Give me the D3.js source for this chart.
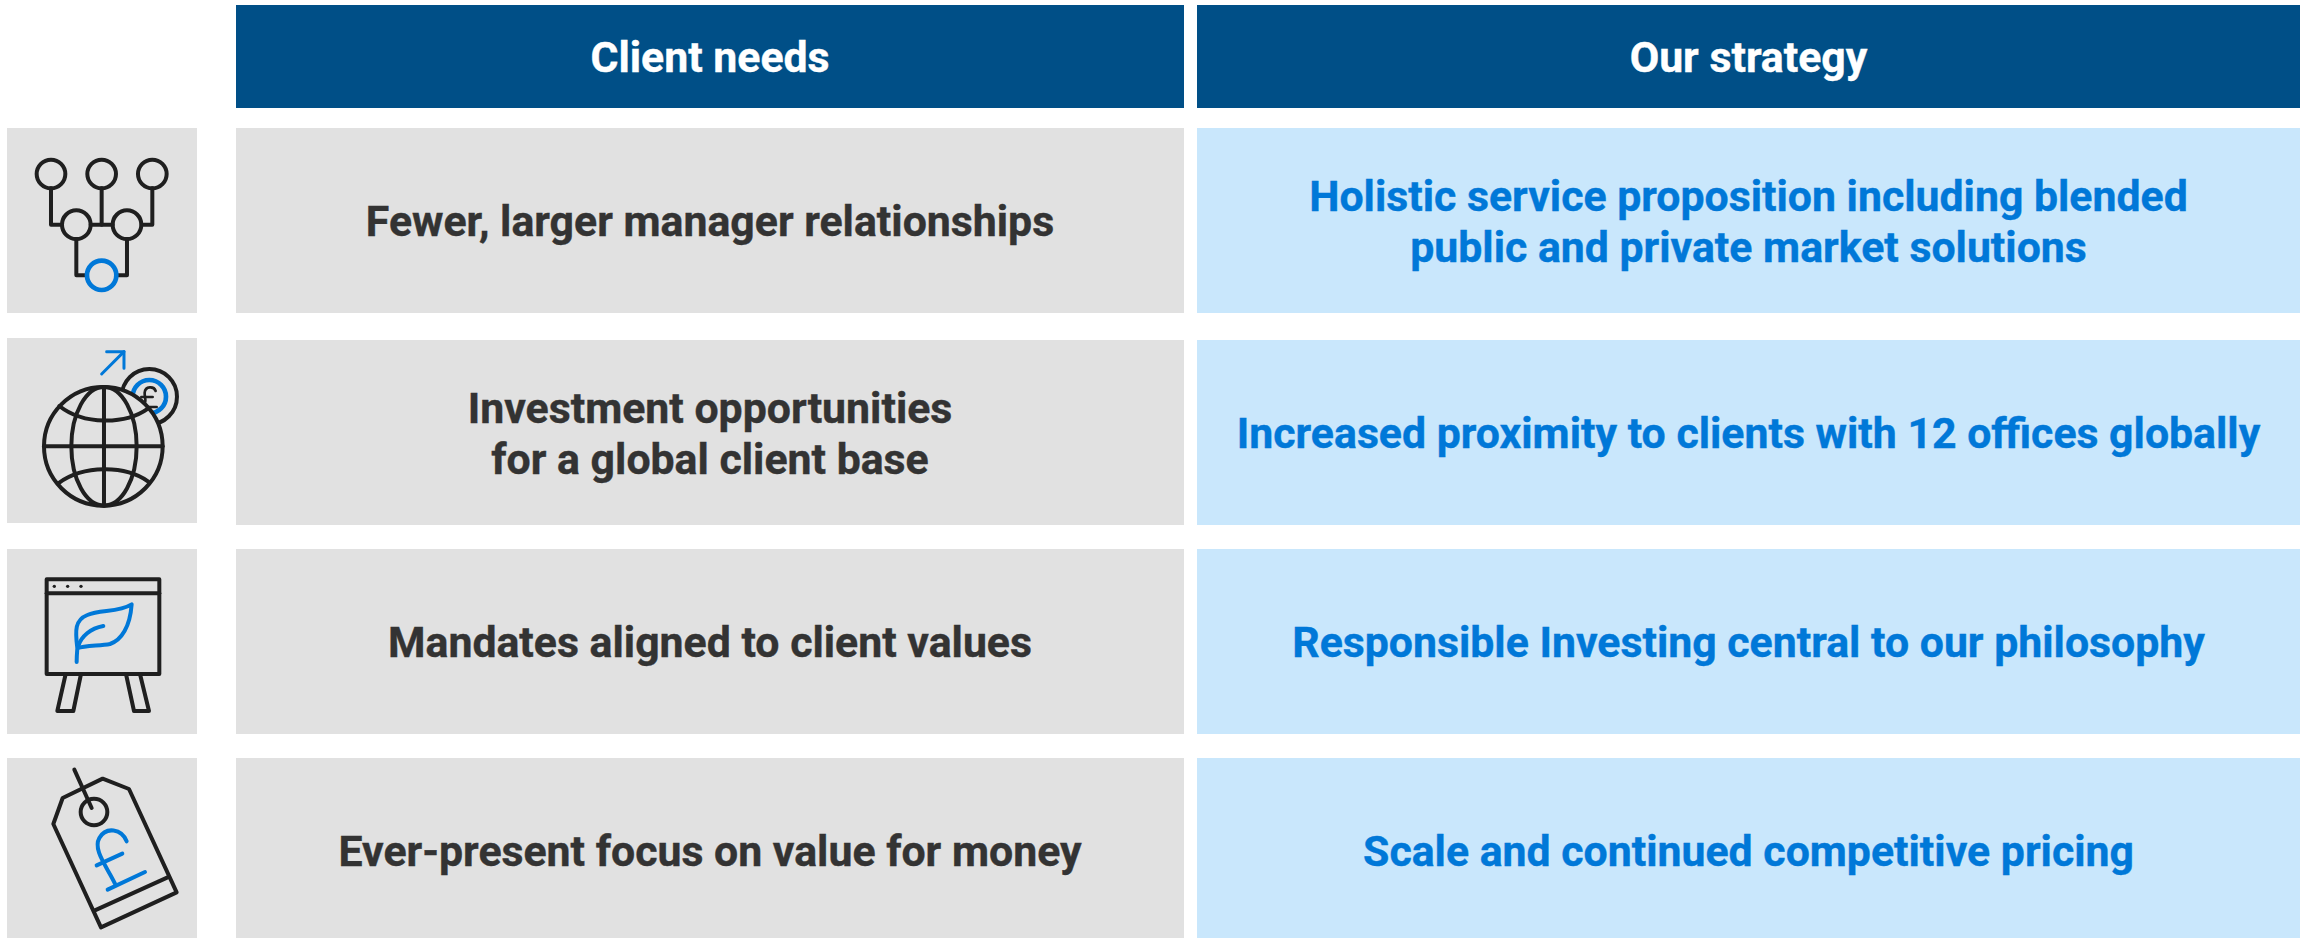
<!DOCTYPE html>
<html>
<head>
<meta charset="utf-8">
<script src="https://cdn.jsdelivr.net/npm/d3@7/dist/d3.min.js"></script>
<style>
  html, body { margin: 0; padding: 0; background: #fff; }
  svg { display: block; }
  text { font-family: Roboto, sans-serif; font-weight: 700; }
</style>
</head>
<body>
<div id="chart"></div>
<script>
const headers = ["Client needs", "Our strategy"];
const clientNeeds = [
  ["Fewer, larger manager relationships"],
  ["Investment opportunities", "for a global client base"],
  ["Mandates aligned to client values"],
  ["Ever-present focus on value for money"]
];
const ourStrategy = [
  ["Holistic service proposition including blended", "public and private market solutions"],
  ["Increased proximity to clients with 12 offices globally"],
  ["Responsible Investing central to our philosophy"],
  ["Scale and continued competitive pricing"]
];

const width = 2310;
const height = 938;

const navy = "#004f87";
const grey = "#e1e1e1";
const pale = "#c9e7fc";
const ink = "#333333";
const blue = "#0078d8";
const iconInk = "#1f1f1f";
const fontSize = 42.8;

// box edges. last row runs off the bottom of the page
const colX = [[236, 1184], [1197, 2300]];
const iconX = [7, 197];
const rowY = [[128, 313], [340, 525], [549, 734], [758, 943]];
const iconY = [[128, 313], [338, 523], [549, 734], [758, 943]];

const svg = d3.select("#chart").append("svg")
  .attr("width", width)
  .attr("height", height);

// header
const head = svg.append("g").selectAll("g")
  .data(headers)
  .enter()
  .append("g");

head.append("rect")
  .attr("x", (d, i) => colX[i][0])
  .attr("y", 5)
  .attr("width", (d, i) => colX[i][1] - colX[i][0])
  .attr("height", 103)
  .attr("fill", navy);

head.append("text")
  .attr("x", (d, i) => (colX[i][0] + colX[i][1]) / 2)
  .attr("y", 57.5)
  .attr("dy", "0.35em")
  .attr("text-anchor", "middle")
  .attr("font-size", fontSize)
  .attr("fill", "#fff")
  .attr("stroke", "#fff")
  .attr("stroke-width", 0.4)
  .text(d => d);

function drawColumn(rows, col, fill, color) {
  const g = svg.append("g").selectAll("g")
    .data(rows)
    .enter()
    .append("g");

  g.append("rect")
    .attr("x", colX[col][0])
    .attr("y", (d, i) => rowY[i][0])
    .attr("width", colX[col][1] - colX[col][0])
    .attr("height", (d, i) => rowY[i][1] - rowY[i][0])
    .attr("fill", fill);

  g.each(function (lines, i) {
    const cy = (rowY[i][0] + rowY[i][1]) / 2 + 1;
    d3.select(this).selectAll("text")
      .data(lines)
      .enter()
      .append("text")
      .attr("x", (colX[col][0] + colX[col][1]) / 2)
      .attr("y", (l, j) => cy + (j - (lines.length - 1) / 2) * 51.5)
      .attr("dy", "0.35em")
      .attr("text-anchor", "middle")
      .attr("font-size", fontSize)
      .attr("fill", color)
      .attr("stroke", color)
      .attr("stroke-width", 0.4)
      .text(l => l);
  });
}

drawColumn(clientNeeds, 0, grey, ink);
drawColumn(ourStrategy, 1, pale, blue);

// icon boxes
svg.append("g").selectAll("rect")
  .data(iconY)
  .enter()
  .append("rect")
  .attr("x", iconX[0])
  .attr("y", d => d[0])
  .attr("width", iconX[1] - iconX[0])
  .attr("height", d => d[1] - d[0])
  .attr("fill", grey);

// icons are drawn on a 3x grid
function iconGroup(top) {
  return svg.append("g")
    .attr("transform", "translate(0," + top + ") scale(0.3333)")
    .attr("fill", "none")
    .attr("stroke", iconInk)
    .attr("stroke-width", 12)
    .attr("stroke-linecap", "round")
    .attr("stroke-linejoin", "round");
}

function addPaths(g, list, color) {
  list.forEach(function (p) {
    const el = g.append("path").attr("d", p);
    if (color) el.attr("stroke", color);
  });
}

function addCircle(g, x, y, r, fill, color) {
  const c = g.append("circle").attr("cx", x).attr("cy", y).attr("r", r);
  if (fill) c.attr("fill", fill);
  if (color) c.attr("stroke", color);
  return c;
}

// icon 1: tree of circles
const ic1 = iconGroup(110);
addPaths(ic1, [
  "M153,235V344H185",
  "M305,235V344",
  "M272,344H338",
  "M457,235V344H425",
  "M229,388V496H260",
  "M381,388V496H350"
]);
[[153, 192], [305, 192], [457, 192], [229, 344], [381, 344]].forEach(c => addCircle(ic1, c[0], c[1], 43));
addCircle(ic1, 305, 496, 44, null, blue).attr("stroke-width", 14);

// icon 2: globe and coin
const ic2 = iconGroup(325);
addCircle(ic2, 448, 215, 83, grey);
addCircle(ic2, 448, 215, 50, null, blue).attr("stroke-width", 14);
const pound = ic2.append("g").attr("stroke-width", 8);
addPaths(pound, [
  "M467,198C462,183 436,183 434,203C433,220 444,228 425,246",
  "M424,216H458",
  "M424,246H470"
]);
addCircle(ic2, 310, 364, 178, grey);
const arrow = ic2.append("g").attr("stroke-width", 9);
addPaths(arrow, ["M305,147L372,80", "M320,80H372V130"], blue);
ic2.append("ellipse")
  .attr("cx", 312).attr("cy", 364).attr("rx", 98).attr("ry", 178);
addPaths(ic2, [
  "M312,186V542",
  "M132,364H488",
  "M178,243C250,300 375,300 445,250",
  "M175,475C250,420 375,420 445,470"
]);

// icon 3: easel with leaf
const ic3 = iconGroup(540);
ic3.append("rect")
  .attr("x", 140).attr("y", 118).attr("width", 338).attr("height", 284);
addPaths(ic3, [
  "M140,160H478",
  "M197,402L172,513H220L243,402",
  "M378,402L402,513H447L420,402"
]);
[163, 203, 243].forEach(x => {
  ic3.append("circle").attr("cx", x).attr("cy", 139).attr("r", 5)
    .attr("fill", iconInk).attr("stroke", "none");
});
addPaths(ic3, [
  "M230,366C230,350 231,338 232,325C225,270 225,240 262,225C300,208 355,218 395,193C390,260 365,300 330,312C300,318 255,316 232,325",
  "M236,315C245,290 270,265 310,258"
], blue);

// icon 4: price tag
const ic4 = iconGroup(738);
addPaths(ic4, [
  "M160,258L188,180L308,122L387,153L530,463L303,568Z",
  "M283,518L503,418",
  "M223,95L275,210"
]);
addCircle(ic4, 282, 222, 40);
addPaths(ic4, [
  "M380,310C365,272 318,265 298,300C278,335 320,385 345,437",
  "M323,455L435,402",
  "M290,382L367,347"
], blue);
</script>
</body>
</html>
